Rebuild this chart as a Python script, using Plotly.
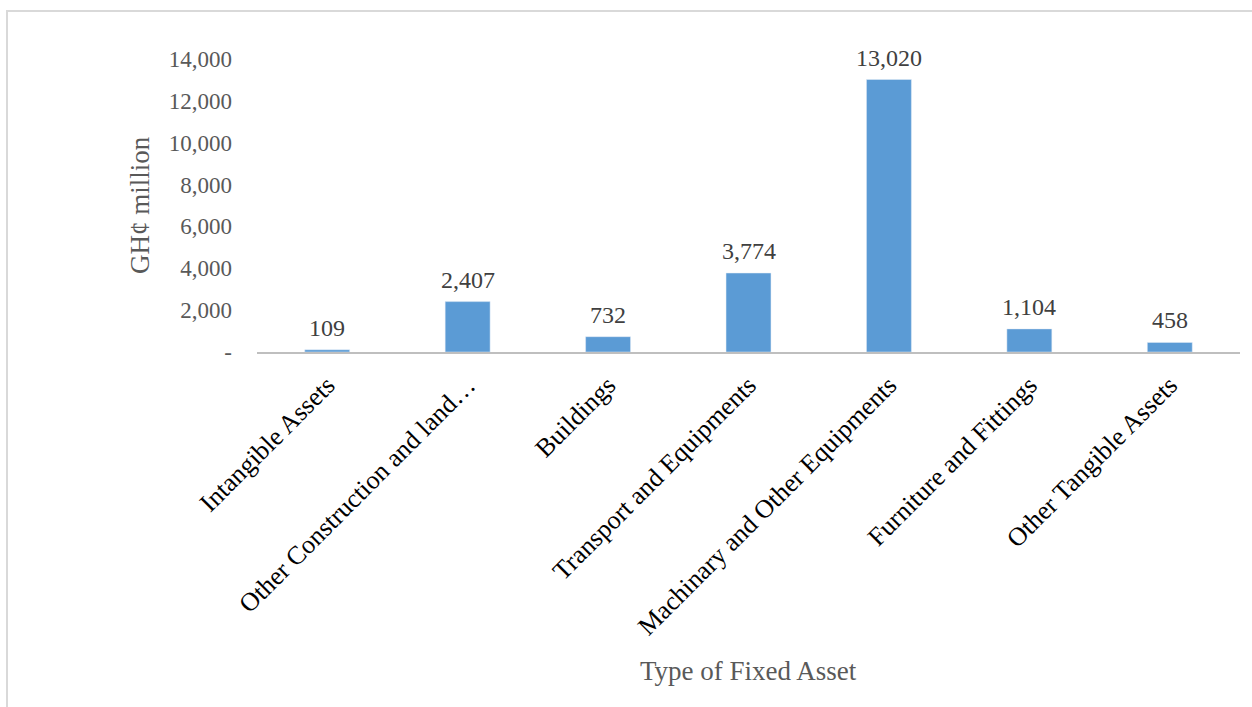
import plotly.graph_objects as go

categories = ["Intangible Assets", "Other Construction and land…", "Buildings",
              "Transport and Equipments", "Machinary and Other Equipments",
              "Furniture and Fittings", "Other Tangible Assets"]
values = [109, 2407, 732, 3774, 13020, 1104, 458]
value_labels = ["109", "2,407", "732", "3,774", "13,020", "1,104", "458"]
y_tickvals = [0, 2000, 4000, 6000, 8000, 10000, 12000, 14000]
y_ticktext = ["-", "2,000", "4,000", "6,000", "8,000", "10,000", "12,000", "14,000"]

FONT = "Liberation Serif, Times New Roman, serif"
W, H = 1252, 707
L, R, T, B = 257, 12, 59, 355

fig = go.Figure(go.Bar(
    x=categories, y=values,
    marker=dict(color="#5B9BD5"), cliponaxis=False,
))

pw = W - L - R
ph = H - T - B
def px2x(px): return (px - L) / pw
def py2y(py): return (H - B - py) / ph

value_annotations = [
    dict(x=c, y=v, text=t, xref="x", yref="y", showarrow=False,
         xanchor="center", yanchor="bottom", yshift=7,
         font=dict(family=FONT, size=24, color="#404040"))
    for c, v, t in zip(categories, values, value_labels)
]

fig.update_layout(
    width=W, height=H,
    margin=dict(l=L, r=R, t=T, b=B),
    paper_bgcolor="white", plot_bgcolor="white",
    bargap=0.68, showlegend=False,
    font=dict(family=FONT),
    xaxis=dict(showline=True, linecolor="#bfbfbf", linewidth=1.5, ticks="",
               tickangle=-45, tickfont=dict(family=FONT, size=26, color="black"),
               ticklabelstandoff=6, showgrid=False),
    yaxis=dict(range=[0, 14000], tickvals=y_tickvals, ticktext=y_ticktext,
               showgrid=False, zeroline=False, showline=False, ticks="",
               ticklabelstandoff=24,
               tickfont=dict(family=FONT, size=23, color="#595959")),
    shapes=[dict(type="rect", xref="paper", yref="paper",
                 x0=px2x(7), x1=px2x(1300), y0=py2y(760), y1=py2y(11),
                 line=dict(color="#d9d9d9", width=2), layer="below")],
    annotations=value_annotations + [
        dict(text="GH¢ million", xref="paper", yref="paper", x=px2x(140), y=py2y(205),
             showarrow=False, textangle=-90, xanchor="center", yanchor="middle",
             font=dict(family=FONT, size=27, color="#595959")),
        dict(text="Type of Fixed Asset", xref="paper", yref="paper", x=px2x(748), y=py2y(671),
             showarrow=False, xanchor="center", yanchor="middle",
             font=dict(family=FONT, size=27, color="#595959")),
    ],
)

fig.write_html("out.html", config={"displayModeBar": False},
               post_script="document.body.style.margin='0';document.body.style.padding='0';")
